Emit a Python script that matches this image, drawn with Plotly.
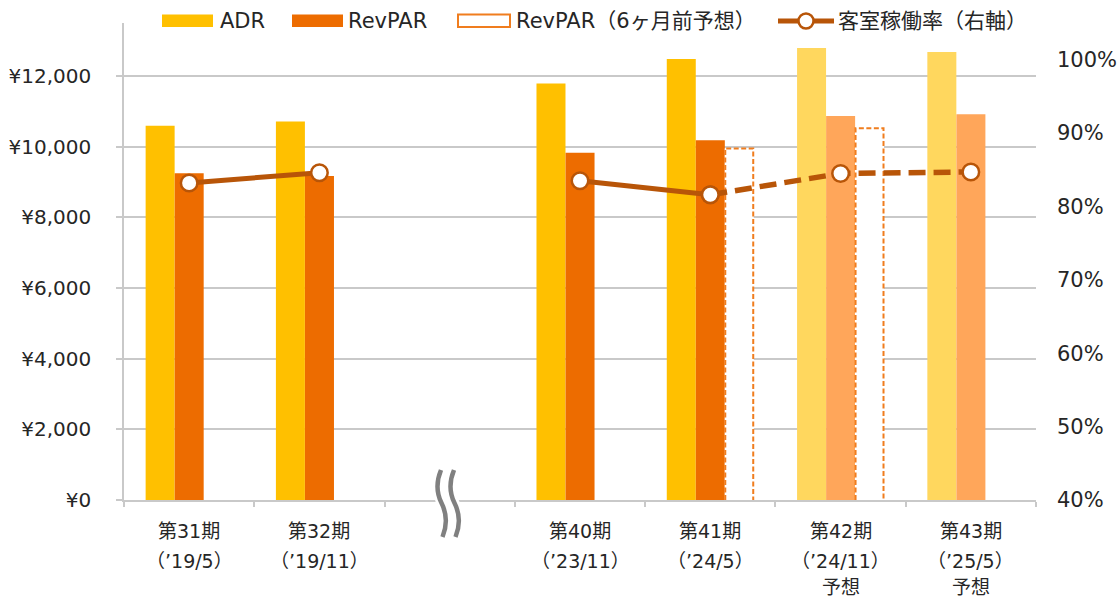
import plotly.graph_objects as go

# ---- data -------------------------------------------------------------
periods = ["第31期", "第32期", "", "第40期", "第41期", "第42期", "第43期"]
period_dates = ["（’19/5）", "（’19/11）", "", "（’23/11）", "（’24/5）", "（’24/11）", "（’25/5）"]
period_notes = ["", "", "", "", "", "予想", "予想"]
is_forecast = [False, False, False, False, False, True, True]

adr = [10590, 10710, None, 11790, 12480, 12790, 12680]
revpar = [9250, 9170, None, 9830, 10180, 10870, 10920]
revpar_6m_prior = [None, None, None, None, 9950, 10520, None]
occupancy = [83.2, 84.6, None, 83.5, 81.6, 84.5, 84.7]

occ_ticks = [40, 50, 60, 70, 80, 90, 100]
legend_labels = ["ADR", "RevPAR", "RevPAR（6ヶ月前予想）", "客室稼働率（右軸）"]

# ---- styling ----------------------------------------------------------
C_ADR, C_ADR_F = "#FFC000", "#FFD75E"
C_REV, C_REV_F = "#ED6C00", "#FFA65A"
C_OUTLINE = "#F07D1E"
C_LINE = "#B85508"
C_GRID = "#C9C9C9"
C_TEXT = "#262626"
FONT = "DejaVu Sans, Noto Sans CJK JP, sans-serif"

BAR_W = 0.2226
OFF_ADR, OFF_REV, OFF_FC = -0.334, -0.111, 0.111

# plot area in pixels
W, H = 1120, 597
PL, PR, PT, PB = 124, 1036, 23, 500


def px_x(px):
    return (px - PL) / (PR - PL)


def px_y(py):
    return (PB - py) / (PB - PT)


xs = list(range(len(periods)))

fig = go.Figure()

fig.add_trace(go.Bar(
    x=xs, y=adr, width=BAR_W, offset=OFF_ADR,
    marker=dict(color=[C_ADR_F if f else C_ADR for f in is_forecast], line=dict(width=0)),
    name=legend_labels[0], showlegend=False, hoverinfo="y",
))
fig.add_trace(go.Bar(
    x=xs, y=revpar, width=BAR_W, offset=OFF_REV,
    marker=dict(color=[C_REV_F if f else C_REV for f in is_forecast], line=dict(width=0)),
    name=legend_labels[1], showlegend=False, hoverinfo="y",
))
# forecast made 6 months earlier: white bar with dashed outline
fig.add_trace(go.Bar(
    x=xs, y=revpar_6m_prior, width=BAR_W, offset=OFF_FC,
    marker=dict(color="white", line=dict(width=0)),
    name=legend_labels[2], showlegend=False, hoverinfo="y",
))
ox, oy = [], []
for i, v in enumerate(revpar_6m_prior):
    if v is None:
        continue
    a, b = i + OFF_FC + 0.004, i + OFF_FC + BAR_W - 0.004
    ox += [a, a, b, b, None]
    oy += [0, v, v, 0, None]
fig.add_trace(go.Scatter(
    x=ox, y=oy, mode="lines", line=dict(color=C_OUTLINE, width=2, dash="5px,2.5px"),
    showlegend=False, hoverinfo="skip",
))

# occupancy: solid for results, dashed towards forecasts
last_actual = max(i for i, f in enumerate(is_forecast) if not f and occupancy[i] is not None)
occ_actual = [v if not f else None for v, f in zip(occupancy, is_forecast)]
occ_fcst = [v if (f or i == last_actual) else None for i, (v, f) in enumerate(zip(occupancy, is_forecast))]
marker_style = dict(symbol="circle", size=16.5, color="white", line=dict(color=C_LINE, width=2.5))
fig.add_trace(go.Scatter(
    x=xs, y=occ_fcst, yaxis="y2", mode="lines+markers",
    line=dict(color=C_LINE, width=5.5, dash="17px,8px"), marker=marker_style,
    connectgaps=False, showlegend=False,
))
fig.add_trace(go.Scatter(
    x=xs, y=occ_actual, yaxis="y2", mode="lines+markers",
    line=dict(color=C_LINE, width=5), marker=marker_style,
    connectgaps=False, name=legend_labels[3], showlegend=False,
))

# ---- axes ------------------------------------------------------------
fig.update_layout(
    width=W, height=H, autosize=False,
    margin=dict(l=PL, r=W - PR, t=PT, b=H - PB, pad=0),
    paper_bgcolor="white", plot_bgcolor="white",
    barmode="overlay", showlegend=False,
    font=dict(family=FONT, color=C_TEXT, size=20),
    xaxis=dict(
        range=[-0.5, len(periods) - 0.5], showgrid=False, zeroline=False,
        showline=True, linecolor=C_GRID, linewidth=1.5,
        tickmode="array", tickvals=[i - 0.5 for i in range(len(periods) + 1)],
        ticks="outside", ticklen=5, tickcolor=C_GRID, tickwidth=1.5,
        showticklabels=False, fixedrange=True, automargin=False,
    ),
    yaxis=dict(
        range=[0, 13500], dtick=2000, tick0=0, tickprefix="¥", tickformat=",d",
        showgrid=True, gridcolor=C_GRID, gridwidth=1.5, zeroline=False,
        showline=True, linecolor=C_GRID, linewidth=1.5,
        ticks="outside", ticklen=6, tickcolor=C_GRID, tickwidth=1.5,
        ticklabelstandoff=21, tickfont=dict(size=20, color=C_TEXT),
        automargin=False,
    ),
    yaxis2=dict(
        range=[40, 105], tickmode="array", tickvals=occ_ticks,
        ticktext=[f"{v}%" for v in occ_ticks],
        overlaying="y", side="right", showgrid=False,
        zeroline=False, showline=False, ticks="", ticklabelstandoff=20,
        tickfont=dict(size=21, color=C_TEXT), automargin=False,
    ),
)

# ---- category labels -------------------------------------------------
ann = []
for i in xs:
    for txt, py in ((periods[i], 530.5), (period_dates[i], 561), (period_notes[i], 587)):
        if txt:
            ann.append(dict(
                x=i, y=px_y(py), xref="x", yref="paper", text=txt, showarrow=False,
                xanchor="center", yanchor="middle", font=dict(size=19, color=C_TEXT),
            ))

# ---- legend ----------------------------------------------------------
shapes = []
LEG_Y = 21
swatches = [(162, 213, C_ADR, None), (292, 343, C_REV, None), (458, 510, "white", C_OUTLINE)]
text_x = [218, 346, 514, 836]
for (x0, x1, fill, border) in swatches:
    shapes.append(dict(
        type="rect", xref="paper", yref="paper",
        x0=px_x(x0), x1=px_x(x1), y0=px_y(LEG_Y + 6), y1=px_y(LEG_Y - 6.5),
        fillcolor=fill, line=dict(color=border or fill, width=2 if border else 0),
    ))
shapes.append(dict(
    type="line", xref="paper", yref="paper", x0=px_x(778), x1=px_x(834),
    y0=px_y(LEG_Y), y1=px_y(LEG_Y), line=dict(color=C_LINE, width=5),
))
shapes.append(dict(
    type="circle", xref="paper", yref="paper",
    x0=px_x(806 - 7.5), x1=px_x(806 + 7.5), y0=px_y(LEG_Y + 7.5), y1=px_y(LEG_Y - 7.5),
    fillcolor="white", line=dict(color=C_LINE, width=2.5),
))
for label, tx in zip(legend_labels, text_x):
    ann.append(dict(
        x=px_x(tx), y=px_y(LEG_Y), xref="paper", yref="paper", text=label,
        showarrow=False, xanchor="left", yanchor="middle",
        font=dict(size=21, color=C_TEXT),
    ))

# ---- axis break mark on the empty category ---------------------------
def wave(dx):
    pts = [(441 + dx, 470), (436 + dx, 482), (436 + dx, 492), (441.5 + dx, 503),
           (447 + dx, 526), (442.5 + dx, 537)]
    p = [f"{px_x(x):.5f},{px_y(y):.5f}" for x, y in pts]
    return f"M {p[0]} C {p[1]} {p[2]} {p[3]} S {p[4]} {p[5]}"


shapes.append(dict(type="path", xref="paper", yref="paper", path=wave(6.5),
                   line=dict(color="white", width=22), layer="above"))
for dx in (0, 13):
    shapes.append(dict(type="path", xref="paper", yref="paper", path=wave(dx),
                       line=dict(color="#808080", width=4.5), layer="above"))

fig.update_layout(annotations=ann, shapes=shapes)

fig.write_html("out.html")
